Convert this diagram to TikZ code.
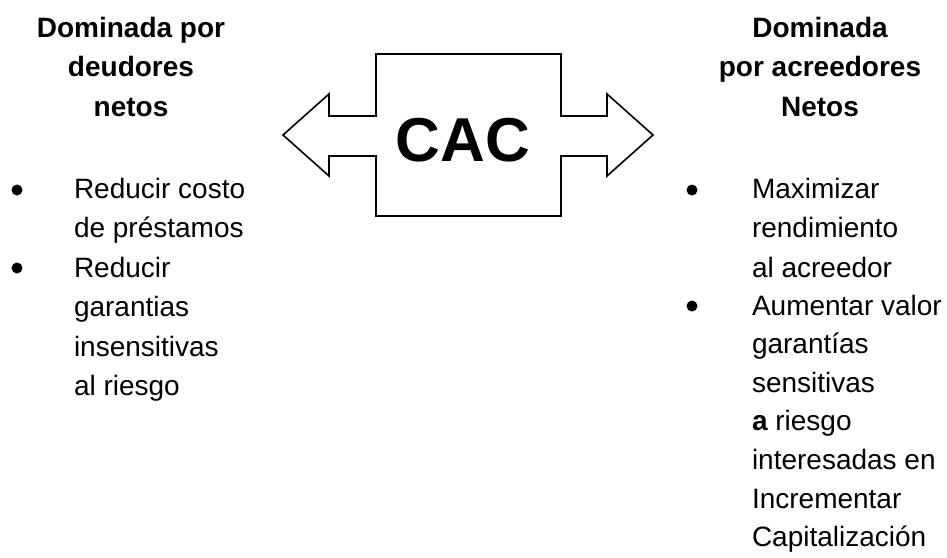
\documentclass[tikz,border=0pt]{standalone}
\usepackage{fontspec}
\setmainfont{Liberation Sans}
\begin{document}
\begin{tikzpicture}[x=1pt,y=-1pt,
  every node/.style={inner sep=0pt, outer sep=0pt},
  heading/.style={anchor=north, align=center, font=\fontsize{28}{39.5}\selectfont\bfseries},
  itemtext/.style={anchor=north west, align=left, font=\fontsize{28}{39.5}\selectfont},
  dot/.style={circle, fill=black, minimum size=11pt},
  outline/.style={draw=black, line width=1.6pt, line join=miter}]
\useasboundingbox (0,0) rectangle (947,557);
\fill[white] (0,0) rectangle (947,557);

% central box with a two-way arrow running through it
\draw[outline] (283,135) -- (329,94) -- (329,116) -- (376,116) -- (376,54)
  -- (561,54) -- (561,116) -- (607,116) -- (607,94) -- (653,135)
  -- (607,176) -- (607,156) -- (561,156) -- (561,216) -- (376,216)
  -- (376,156) -- (329,156) -- (329,176) -- cycle;
\node[font=\fontsize{62}{70}\selectfont\bfseries] (cac) at (463,140) {CAC};

% left column: net debtors
\node[heading] (hleft) at (131,9.35) {\strut Dominada por\\\strut deudores\\\strut netos};
\node[dot] (bl1) at (17,190) {};
\node[itemtext] (tl1) at (74,170.35) {\strut Reducir costo\\\strut de préstamos};
\node[dot] (bl2) at (17,268) {};
\node[itemtext] (tl2) at (74,249.35) {\strut Reducir\\\strut garantias\\\strut insensitivas\\\strut al riesgo};

% right column: net creditors
\node[heading] (hright) at (820,9.35) {\strut Dominada\\\strut por acreedores\\\strut Netos};
\node[dot] (br1) at (692,190) {};
\node[itemtext] (tr1) at (752,170.35) {\strut Maximizar\\\strut rendimiento\\\strut al acreedor};
\node[dot] (br2) at (692,306) {};
\node[itemtext, font=\fontsize{28}{38.6}\selectfont] (tr2) at (752,288) {\strut Aumentar valor\\\strut garantías\\\strut sensitivas\\\strut {\bfseries a} riesgo\\\strut interesadas en\\\strut Incrementar\\\strut Capitalización};
\end{tikzpicture}
\end{document}
